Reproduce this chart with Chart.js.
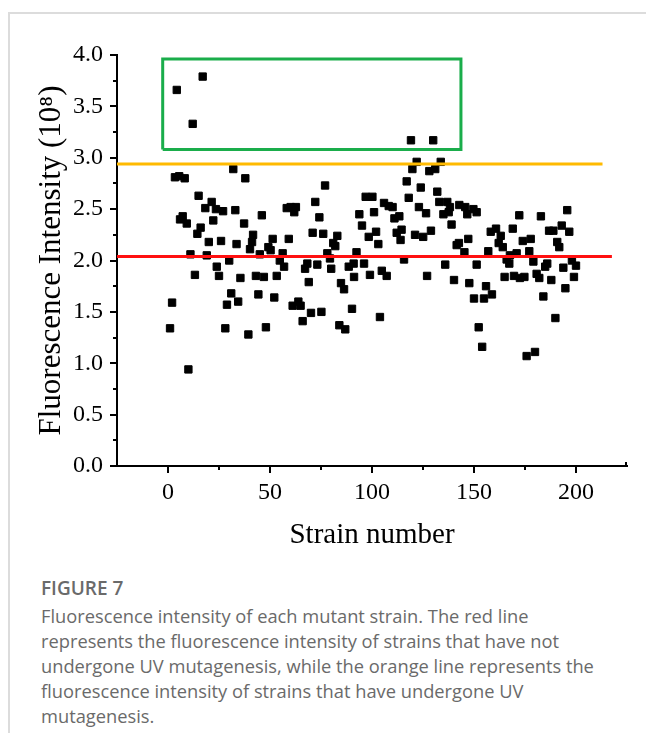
<!DOCTYPE html>
<html>
<head>
<meta charset="utf-8">
<script src="https://cdn.jsdelivr.net/npm/chart.js@4.4.1/dist/chart.umd.min.js"></script>
<style>
body { margin: 0; background: #fff; }
#frame { position: absolute; left: 8px; top: 12px; width: 640px; height: 730px; border-top: 2px solid #dcdcdc; border-left: 2px solid #dcdcdc; }
#wrap { position: absolute; left: 0; top: 0; width: 646px; height: 560px; }
#caption { position: absolute; left: 41px; top: 576px; font-family: "Open Sans", sans-serif; color: #6a6a6a; font-size: 18.3px; line-height: 25px; white-space: nowrap; }
#caption .fig { font-weight: 600; font-size: 19px; color: #6a6a6a; margin-bottom: 2px; }
</style>
</head>
<body>
<div id="frame"></div>
<div id="wrap"><canvas id="myChart" width="646" height="560"></canvas></div>
<div id="caption">
<div class="fig">FIGURE 7</div>
Fluorescence intensity of each mutant strain. The red line<br>
represents the fluorescence intensity of strains that have not<br>
undergone UV mutagenesis, while the orange line represents the<br>
fluorescence intensity of strains that have undergone UV<br>
mutagenesis.
</div>
<script>
// values
const strainX = [
  17, 4.3, 12.1, 32, 3.4, 5.5, 8.2, 15, 21.4, 18.3,
  23.5, 27, 33, 7.2, 5.9, 9.2, 22.2, 16, 14.4, 20,
  26, 33.6, 11, 19, 30, 23.9, 13.2, 25, 35.5, 31,
  2, 28.9, 34.4, 1, 28.1, 10, 37.9, 77, 72.2, 46,
  58.2, 60.1, 62.7, 61.9, 74.2, 93.8, 37.3, 41.7, 70.9, 76.1,
  83, 41.2, 40.2, 51.3, 59.2, 49.2, 50.3, 81, 82, 45,
  56.2, 54.8, 78.1, 92.4, 56.9, 79.4, 68.3, 67.2, 73.2, 80,
  88.6, 91, 91.2, 43.1, 47, 53.3, 69, 84.8, 86.3, 44.3,
  52.1, 63.9, 61.1, 65, 70.1, 75.2, 66, 90.2, 84, 86.9,
  48, 39.4, 119.1, 130, 121.9, 133.7, 119.8, 128.1, 131, 117,
  123.9, 132, 96.9, 100.2, 118, 105.9, 108.2, 110.1, 133, 136.9,
  123, 126.5, 138.2, 137.6, 142.8, 145.7, 149.7, 135, 146.7, 101,
  113.4, 111, 95.1, 139, 102, 114.5, 112.1, 128.9, 98.4, 121.1,
  125.1, 114, 103.1, 147.2, 141.5, 142.6, 145.3, 115.7, 96.1, 99,
  104.8, 107.2, 127, 135.9, 151.3, 140.2, 147.7, 150, 103.9, 152.3,
  154, 151.3, 172.2, 182.8, 195.7, 158.2, 160.8, 163.1, 169, 186.8,
  188.9, 193, 196.7, 162.1, 164.1, 173.9, 177.8, 190.8, 191.8, 157,
  170.9, 167.6, 177.1, 166, 167.3, 179.1, 185.9, 184.9, 193.8, 198,
  200, 165, 169.6, 172.5, 174.7, 180.7, 182, 187.9, 199, 155.9,
  154.9, 158.8, 194.8, 184, 189.9, 175.8, 179.9
];
const intensity = [
  3.79, 3.66, 3.33, 2.89, 2.81, 2.82, 2.80, 2.63, 2.57, 2.51,
  2.50, 2.48, 2.49, 2.43, 2.40, 2.36, 2.39, 2.32, 2.26, 2.18,
  2.19, 2.16, 2.06, 2.05, 2.00, 1.94, 1.86, 1.85, 1.83, 1.68,
  1.59, 1.57, 1.60, 1.34, 1.34, 0.94, 2.80, 2.73, 2.57, 2.44,
  2.51, 2.52, 2.52, 2.47, 2.42, 2.45, 2.36, 2.25, 2.27, 2.26,
  2.24, 2.18, 2.11, 2.21, 2.21, 2.13, 2.10, 2.17, 2.14, 2.06,
  2.07, 2.00, 2.07, 2.08, 1.94, 2.02, 1.97, 1.92, 1.96, 1.92,
  1.94, 1.97, 1.84, 1.85, 1.84, 1.85, 1.79, 1.78, 1.72, 1.67,
  1.64, 1.60, 1.56, 1.56, 1.49, 1.50, 1.41, 1.53, 1.37, 1.33,
  1.35, 1.28, 3.17, 3.17, 2.96, 2.96, 2.89, 2.87, 2.89, 2.77,
  2.71, 2.67, 2.62, 2.62, 2.61, 2.56, 2.53, 2.52, 2.57, 2.57,
  2.52, 2.46, 2.52, 2.47, 2.54, 2.52, 2.50, 2.45, 2.45, 2.47,
  2.43, 2.41, 2.34, 2.35, 2.28, 2.30, 2.27, 2.29, 2.23, 2.25,
  2.23, 2.20, 2.16, 2.21, 2.15, 2.17, 2.08, 2.01, 1.97, 1.86,
  1.90, 1.85, 1.85, 1.96, 1.96, 1.81, 1.78, 1.63, 1.45, 1.35,
  1.16, 2.47, 2.44, 2.43, 2.49, 2.28, 2.31, 2.24, 2.31, 2.29,
  2.29, 2.34, 2.28, 2.17, 2.13, 2.19, 2.21, 2.18, 2.13, 2.09,
  2.07, 2.05, 2.09, 2.01, 1.97, 1.99, 1.97, 1.94, 1.93, 2.00,
  1.95, 1.84, 1.85, 1.83, 1.84, 1.87, 1.83, 1.81, 1.84, 1.75,
  1.63, 1.67, 1.73, 1.65, 1.44, 1.07, 1.11
];

const xTicks = [0, 50, 100, 150, 200];
const xMinor = [25, 75, 125, 175];
const yTicks = [0, 0.5, 1, 1.5, 2, 2.5, 3, 3.5, 4];
const yMinor = [0.25, 0.75, 1.25, 1.75, 2.25, 2.75, 3.25, 3.75];

const redLevel = 2.04;       // strains without UV mutagenesis
const redSpan = [-25, 217.6];
const orangeLevel = 2.94;    // strains after UV mutagenesis
const orangeSpan = [-25, 213];
const boxX = [-2.6, 143.6];
const boxY = [3.08, 3.96];

const points = strainX.map((x, i) => ({ x: x, y: intensity[i] }));

const minorTicks = {
    id: 'minorTicks',
    afterDraw(chart) {
        const c = chart.ctx;
        const sx = chart.scales.x, sy = chart.scales.y;
        c.save();
        c.strokeStyle = '#000';
        c.lineWidth = 2;
        xMinor.forEach(v => {
            const px = Math.round(sx.getPixelForValue(v));
            c.beginPath(); c.moveTo(px, sx.top); c.lineTo(px, sx.top + 4); c.stroke();
        });
        yMinor.forEach(v => {
            const py = Math.round(sy.getPixelForValue(v));
            c.beginPath(); c.moveTo(sy.right, py); c.lineTo(sy.right - 4, py); c.stroke();
        });
        // small end tick at the right of the x axis
        const ex = sx.getPixelForValue(sx.max);
        c.beginPath(); c.moveTo(ex - 1, sx.top + 1); c.lineTo(ex - 1, sx.top - 4); c.stroke();
        c.restore();
    }
};

const serif = 'Liberation Serif, Times New Roman, serif';
var ctx = document.getElementById('myChart').getContext('2d');

new Chart(ctx, {
    type: 'scatter',
    data: {
        datasets: [
            {
                type: 'line',
                data: [{ x: redSpan[0], y: redLevel }, { x: redSpan[1], y: redLevel }],
                borderColor: '#ff1010',
                borderWidth: 3,
                pointRadius: 0
            },
            {
                type: 'line',
                data: [{ x: orangeSpan[0], y: orangeLevel }, { x: orangeSpan[1], y: orangeLevel }],
                borderColor: '#ffba00',
                borderWidth: 3,
                pointRadius: 0
            },
            {
                type: 'line',
                data: [
                    { x: boxX[0], y: boxY[0] }, { x: boxX[0], y: boxY[1] },
                    { x: boxX[1], y: boxY[1] }, { x: boxX[1], y: boxY[0] },
                    { x: boxX[0], y: boxY[0] }
                ],
                borderColor: '#1aad4b',
                borderWidth: 3,
                borderJoinStyle: 'miter',
                pointRadius: 0
            },
            {
                data: points,
                pointStyle: 'rect',
                pointRadius: 5.2,
                backgroundColor: '#000',
                borderColor: '#000',
                borderWidth: 1
            }
        ]
    },
    options: {
        responsive: false,
        animation: false,
        layout: { padding: { top: 55, right: 19, left: 0, bottom: 0 } },
        plugins: {
            legend: { display: false },
            tooltip: { enabled: false }
        },
        scales: {
            x: {
                type: 'linear',
                min: -25,
                max: 225,
                afterBuildTicks: s => { s.ticks = xTicks.map(v => ({ value: v })); },
                afterFit: s => { s.height = 94; },
                grid: { drawOnChartArea: false, tickLength: 7, lineWidth: 2, color: '#000' },
                border: { color: '#000', width: 2 },
                ticks: { color: '#000', padding: 5, maxRotation: 0, font: { family: serif, size: 24 } },
                title: {
                    display: true,
                    text: 'Strain number',
                    color: '#000',
                    font: { family: serif, size: 29 },
                    padding: { top: 0, bottom: 7 }
                }
            },
            y: {
                min: 0,
                max: 4,
                afterBuildTicks: s => { s.ticks = yTicks.map(v => ({ value: v })); },
                afterFit: s => { s.width = 117; },
                grid: { drawOnChartArea: false, tickLength: 7, lineWidth: 2, color: '#000' },
                border: { color: '#000', width: 2 },
                ticks: {
                    color: '#000',
                    padding: 7,
                    font: { family: serif, size: 24 },
                    callback: v => v.toFixed(1)
                },
                title: {
                    display: true,
                    text: 'Fluorescence Intensity (10\u2078)',
                    color: '#000',
                    font: { family: serif, size: 31 },
                    padding: { top: 33, bottom: 0 }
                }
            }
        }
    },
    plugins: [minorTicks]
});
</script>
</body>
</html>
